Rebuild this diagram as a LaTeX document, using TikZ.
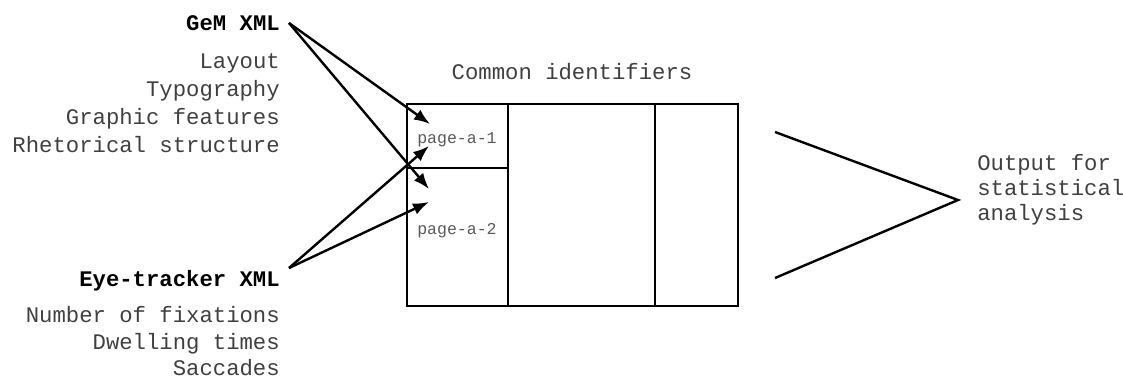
\documentclass[tikz,border=0pt]{standalone}
\usepackage{fontspec}
\newfontfamily\cour{Liberation Mono}
\usetikzlibrary{arrows.meta}
\begin{document}
\begin{tikzpicture}[x=0.75pt,y=-0.75pt,
  lbl/.style={inner sep=0pt,font=\cour\fontsize{16.7}{21}\selectfont,text=black!75},
  head/.style={inner sep=0pt,font=\cour\bfseries\fontsize{16.7}{21}\selectfont,text=black},
  cell/.style={inner sep=0pt,font=\cour\fontsize{12.4}{15}\selectfont,text=black!65},
  arr/.style={line width=1.8pt,-{Latex[length=12pt,width=9pt]}},
  ln/.style={line width=1.8pt}]
\useasboundingbox (0,0) rectangle (1123,380);
% left labels
\node[head,anchor=mid east] (gem) at (280,28) {GeM XML};
\node[lbl,anchor=mid east] (l1) at (280,66) {Layout};
\node[lbl,anchor=mid east] (l2) at (280,94) {Typography};
\node[lbl,anchor=mid east] (l3) at (280,122) {Graphic features};
\node[lbl,anchor=mid east] (l4) at (280,150) {Rhetorical structure};
\node[head,anchor=mid east] (eye) at (280,284) {Eye-tracker XML};
\node[lbl,anchor=mid east] (e1) at (280,320) {Number of fixations};
\node[lbl,anchor=mid east] (e2) at (280,347) {Dwelling times};
\node[lbl,anchor=mid east] (e3) at (280,373) {Saccades};
% table
\node[lbl,anchor=mid] (ci) at (572,77) {Common identifiers};
\coordinate (tl) at (407,104);
\coordinate (br) at (738,306);
\draw[ln] (tl) rectangle (br);
\draw[ln] (508,104) -- (508,306);
\draw[ln] (655,104) -- (655,306);
\draw[ln] (407,168) -- (508,168);
\node[cell,anchor=mid west] (p1) at (417,141) {page-a-1};
\node[cell,anchor=mid west] (p2) at (417,232) {page-a-2};
% arrows
\coordinate (gs) at (289,23);
\coordinate (es) at (289,268);
\coordinate (t1) at (430,124);
\coordinate (t2) at (429,189);
\coordinate (t3) at (429,146);
\coordinate (t4) at (429,202);
\draw[arr] (gs) -- (t1);
\draw[arr] (gs) -- (t2);
\draw[arr] (es) -- (t3);
\draw[arr] (es) -- (t4);
% output
\coordinate (o1) at (775,132);
\coordinate (o2) at (958,200);
\coordinate (o3) at (775,278);
\draw[ln] (o1) -- (o2) -- (o3);
\node[lbl,anchor=mid west] (out1) at (977,168) {Output for};
\node[lbl,anchor=mid west] (out2) at (977,193) {statistical};
\node[lbl,anchor=mid west] (out3) at (977,218) {analysis};
\end{tikzpicture}
\end{document}
